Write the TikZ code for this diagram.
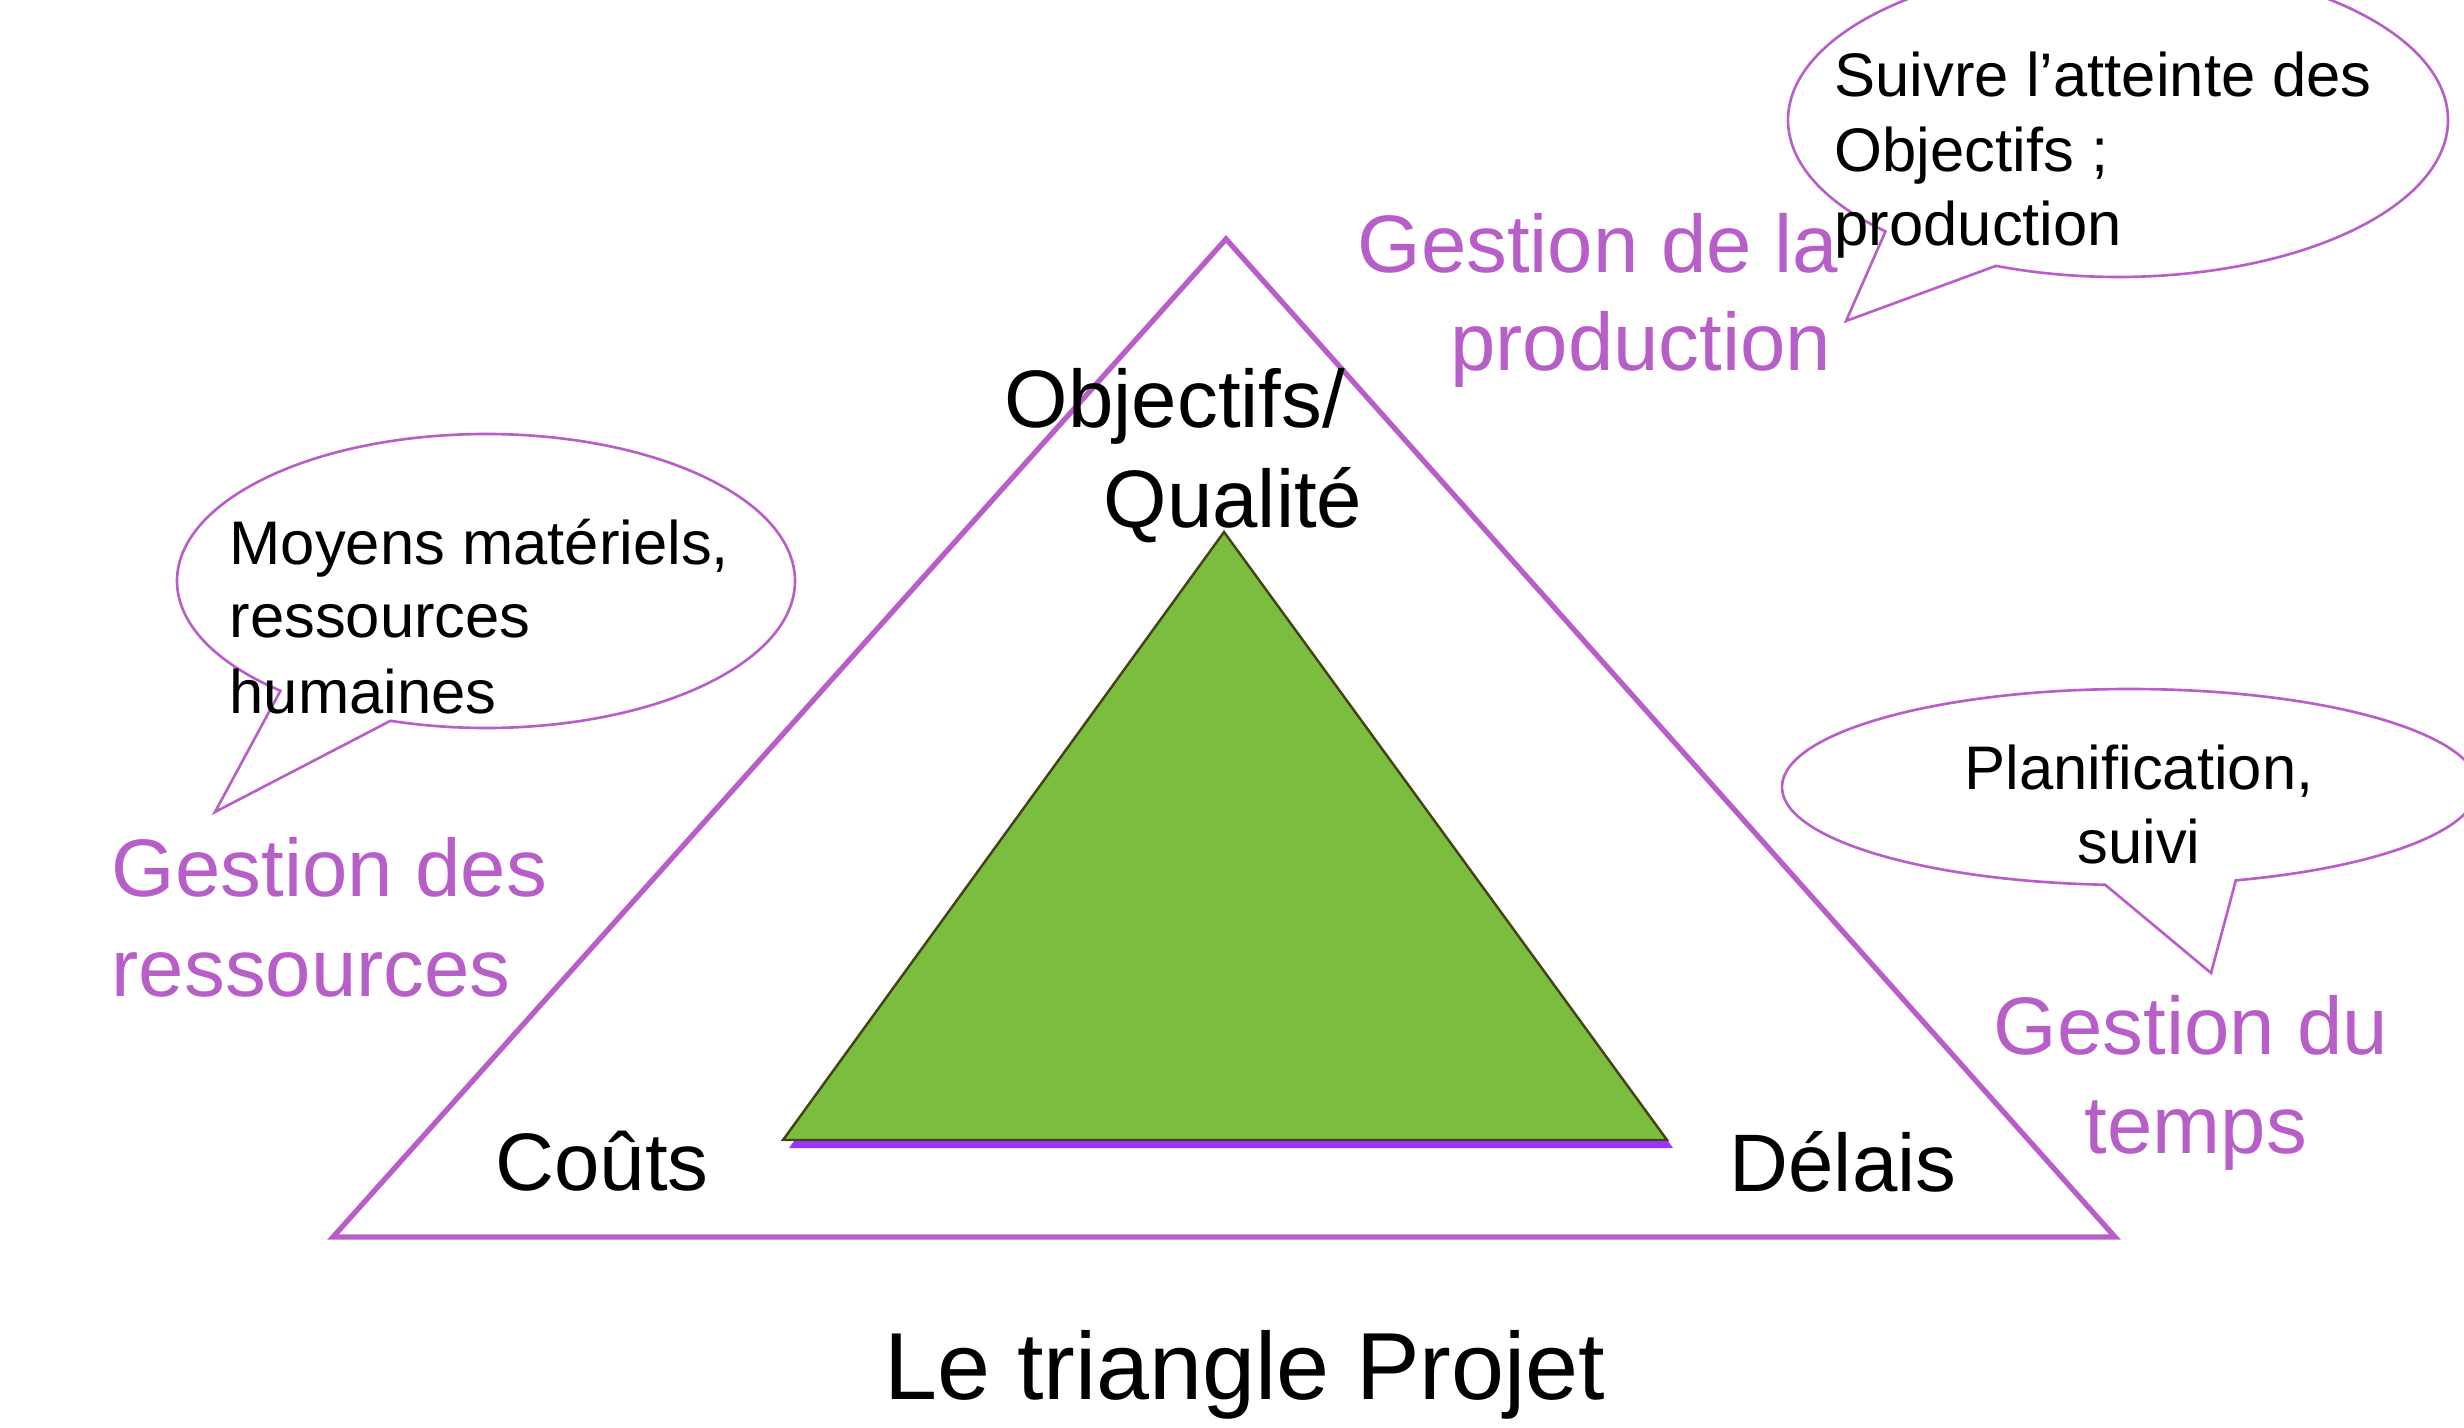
\documentclass[tikz,border=0pt]{standalone}
\usepackage{fontspec}
\setmainfont{Liberation Sans}
\usetikzlibrary{calc}
\definecolor{purp}{RGB}{184,94,200}
\definecolor{grn}{RGB}{122,189,63}
\definecolor{grndark}{RGB}{70,66,22}
\definecolor{shadowpurp}{RGB}{153,51,255}
\tikzset{
  bigtext/.style={inner sep=0pt, font=\fontsize{23.2pt}{27.9pt}\selectfont},
  gestion/.style={bigtext, text=purp},
  smalltext/.style={inner sep=0pt, font=\fontsize{17.5pt}{21pt}\selectfont},
  titletext/.style={inner sep=0pt, font=\fontsize{27.1pt}{32pt}\selectfont},
  outertri/.style={draw=purp, line width=1.5pt, line join=miter},
  callout/.style={draw=purp, line width=0.75pt},
}
\begin{document}
\begin{tikzpicture}[x=0.01cm, y=-0.01cm]
\useasboundingbox (0,0) rectangle (2464,1428);
\clip (0,0) rectangle (2464,1428);
% outer triangle
\coordinate (oA) at (1226,239);
\coordinate (oB) at (333,1237);
\coordinate (oC) at (2115,1237);
\draw[outertri] (oA) -- (oB) -- (oC) -- cycle;
% inner green triangle with shadow
\coordinate (gA) at (1224,532);
\coordinate (gB) at (783,1140);
\coordinate (gC) at (1667,1140);
\fill[shadowpurp] ($(gA)+(6,8)$) -- ($(gB)+(6,8)$) -- ($(gC)+(6,8)$) -- cycle;
\draw[fill=grn, draw=grndark, line width=0.7pt, line join=miter] (gA) -- (gB) -- (gC) -- cycle;
% callouts
\coordinate (cTR) at (2118,120);
\coordinate (tTR) at (1846,321);
\draw[callout] (tTR) -- ($(cTR)+(134.8:330 and 157)$) arc[start angle=134.8, end angle=471.7, x radius=330, y radius=157] -- cycle;
\coordinate (cL) at (486,581);
\coordinate (tL) at (215,812);
\draw[callout] (tL) -- ($(cL)+(131.7:309 and 147)$) arc[start angle=131.7, end angle=468, x radius=309, y radius=147] -- cycle;
\coordinate (cR) at (2130,787);
\coordinate (tR) at (2211,973);
\draw[callout] (tR) -- ($(cR)+(94.1:348 and 98)$) arc[start angle=94.1, end angle=432.3, x radius=348, y radius=98] -- cycle;
% corner labels
\node[bigtext, anchor=base] (obj1) at (1175,428) {Objectifs/};
\node[bigtext, anchor=base] (obj2) at (1233,528) {Qualité};
\node[bigtext, anchor=base] (couts) at (602,1190) {Coûts};
\node[bigtext, anchor=base] (delais) at (1843,1191) {Délais};
% gestion labels
\node[gestion, anchor=base east] (gp1) at (1839,273) {Gestion de la};
\node[gestion, anchor=base east] (gp2) at (1832,371) {production};
\node[gestion, anchor=base west] (gr1) at (111,896) {Gestion des};
\node[gestion, anchor=base west] (gr2) at (111,996) {ressources};
\node[gestion, anchor=base] (gt1) at (2191,1054) {Gestion du};
\node[gestion, anchor=base] (gt2) at (2196,1153) {temps};
% callout texts
\node[smalltext, anchor=base west] (s1) at (1834,97) {Suivre l’atteinte des};
\node[smalltext, anchor=base west] (s2) at (1834,172) {Objectifs ;};
\node[smalltext, anchor=base west] (s3) at (1834,246) {production};
\node[smalltext, anchor=base west] (m1) at (229,565) {Moyens matériels,};
\node[smalltext, anchor=base west] (m2) at (229,638) {ressources};
\node[smalltext, anchor=base west] (m3) at (229,713) {humaines};
\node[smalltext, anchor=base] (p1) at (2139,789) {Planification,};
\node[smalltext, anchor=base] (p2) at (2139,863) {suivi};
% title
\node[titletext, anchor=base] (title) at (1245,1399) {Le triangle Projet};
\end{tikzpicture}
\end{document}
